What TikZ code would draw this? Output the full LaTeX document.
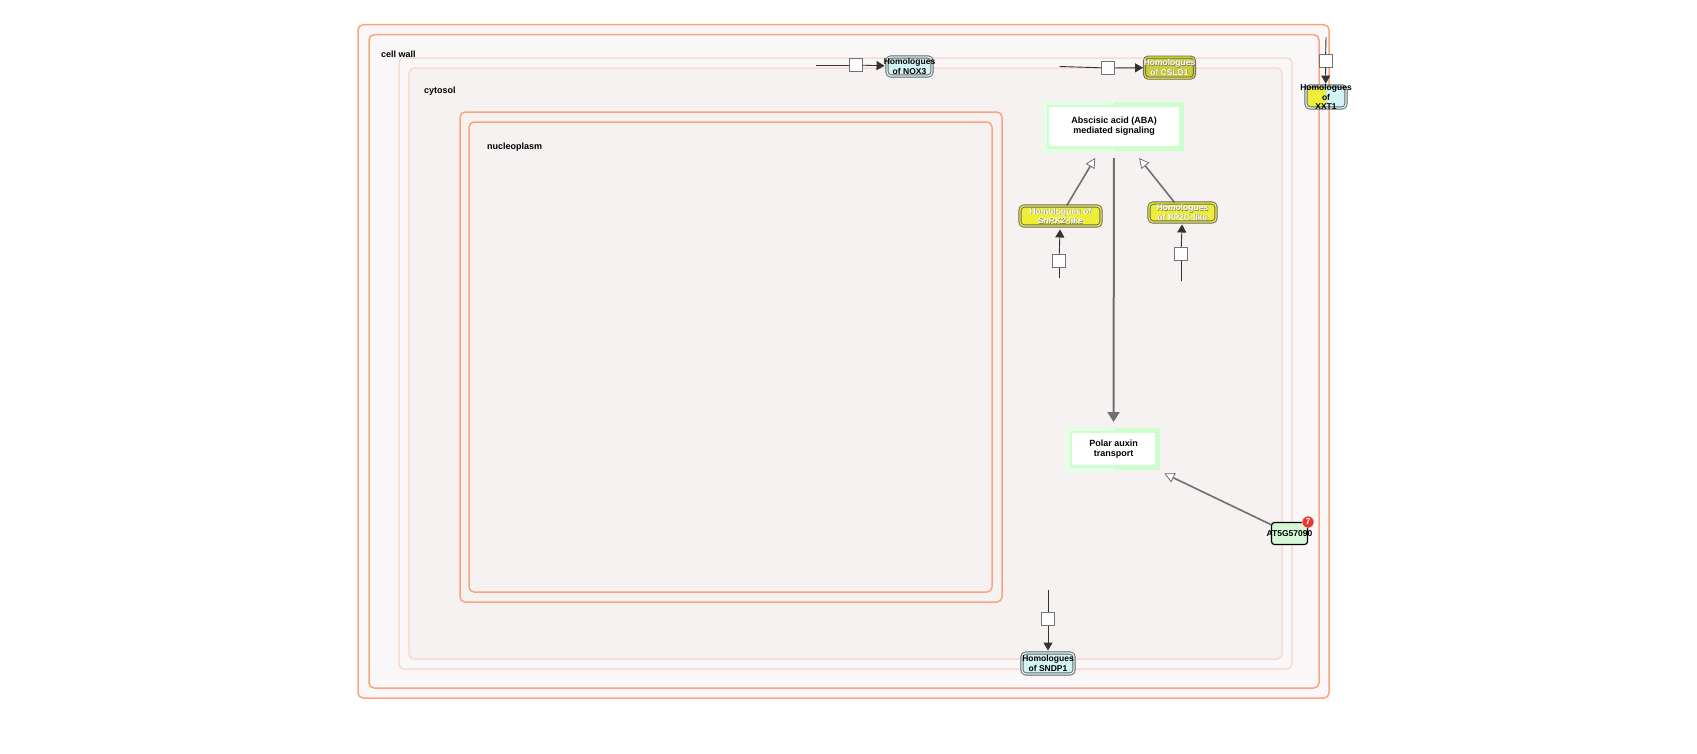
\documentclass[tikz,border=0pt]{standalone}
\usepackage{fontspec}
\setmainfont{Liberation Sans}
\usetikzlibrary{arrows.meta}

\definecolor{cellorange}{HTML}{FBA57E}
\definecolor{cytopink}{HTML}{F9DBCF}
\definecolor{wallfill}{HTML}{F9F7F7}
\definecolor{innerfill}{HTML}{F5F2F1}
\definecolor{geneyellow}{HTML}{EEEE3A}
\definecolor{geneolive}{HTML}{CDCD38}
\definecolor{genecyan}{HTML}{D4F4F4}
\definecolor{genegreen}{HTML}{D7F8D7}
\definecolor{procgreen}{HTML}{CCFFCC}
\definecolor{proclight}{HTML}{E9FCE9}
\definecolor{linegray}{HTML}{707070}
\definecolor{badgered}{HTML}{E53A2F}

\tikzset{
  comp/.style={draw=cellorange, line width=1.5pt, rounded corners=5pt},
  cyto/.style={draw=cytopink, line width=1.5pt, rounded corners=5pt},
  complabel/.style={anchor=west, font=\fontsize{9}{10}\selectfont\bfseries, inner sep=0pt},
  genebox/.style={rounded corners=4pt, draw=black!60, line width=0.9pt,
    double distance=1.4pt, inner sep=0pt},
  genetext/.style={align=center, font=\fontsize{8.5}{9.3}\selectfont\bfseries, inner sep=0pt},
  whitetext/.style={genetext, text=white},
  shadetext/.style={genetext, text=black!55, xshift=0.5pt, yshift=-0.5pt},
  procbox/.style={draw=procgreen, line width=5pt, fill=white, inner sep=0pt,
    align=center, font=\fontsize{9}{10}\selectfont\bfseries},
  anchorbox/.style={draw=black!55, fill=white, minimum size=13pt, inner sep=0pt},
  anchorline/.style={draw=black!80, line width=0.9pt},
  anchorarrow/.style={anchorline, -{Triangle[length=8pt,width=9pt]}},
  openarrow/.style={draw=linegray, line width=1.6pt,
    -{Triangle[open,fill=white,length=10pt,width=10pt,line width=0.8pt]}},
  grayarrow/.style={draw=linegray, line width=2pt, -{Triangle[length=10pt,width=12pt]}}
}

\begin{document}
\begin{tikzpicture}[x=1pt,y=-1pt]
    \useasboundingbox (0,0) rectangle (1697,753);

    % compartments
    \draw[comp, fill=wallfill](358, 24.7) rectangle (1329, 698);
    \draw[comp, fill=wallfill](369, 34.7) rectangle (1319, 688);
        \node[complabel] (cellwall) at(381, 54){cell wall};
    \draw[cyto, fill=wallfill](399, 58) rectangle (1292, 669);
    \draw[cyto, fill=innerfill](409, 68) rectangle (1282, 659);
        \node[complabel] (cytosol) at(424, 91){cytosol};
    \draw[comp, fill=innerfill](460, 112) rectangle (1002, 602);
    \draw[comp, fill=innerfill](469, 122) rectangle (992, 592);
        \node[complabel] (nucleoplasm) at(487, 147){nucleoplasm};

    % processes
    \node[procbox, minimum width=135pt, minimum height=44pt] (aba) at(1114, 126.5){};
        \draw[proclight, line width=5pt](aba.north) -- (aba.north west) -- (aba.south west) -- (aba.south);
        \node[procbox, draw=none, fill=none] (abatext) at(aba){Abscisic acid (ABA)\\mediated signaling};
    \node[procbox, minimum width=88pt, minimum height=37pt] (polar) at(1113.5, 449){};
        \draw[proclight, line width=5pt](polar.north) -- (polar.north west) -- (polar.south west) -- (polar.south);
        \node[procbox, draw=none, fill=none] (polartext) at(polar){Polar auxin\\transport};

    % gene products
    \node[genebox, fill=genecyan, double=genecyan, minimum width=45pt, minimum height=19pt,
        label={[genetext]center:Homologues\\of NOX3}] (nox3) at(909.5, 66.5){};
    \node[genebox, fill=geneolive, double=geneolive, minimum width=50pt, minimum height=21pt,
        label={[shadetext]center:Homologues\\of CSLD1},
        label={[whitetext]center:Homologues\\of CSLD1}] (csld1) at(1169.5, 67.6){};
    \node[genebox, fill=genecyan, double=genecyan, minimum width=40pt, minimum height=22pt,
        path picture={\fill[geneyellow](path picture bounding box.south west) rectangle (path picture bounding box.north);},
        label={[genetext]center:Homologues\\of\\XXT1}] (xxt1) at(1326, 97){};
    \node[genebox, fill=geneyellow, double=geneyellow, minimum width=81pt, minimum height=20pt,
        label={[shadetext]center:Homologues of\\SnRK2-like},
        label={[whitetext]center:Homologues of\\SnRK2-like}] (snrk2) at(1060.5, 216){};
    \node[genebox, fill=geneyellow, double=geneyellow, minimum width=67pt, minimum height=19pt,
        label={[shadetext]center:Homologues\\of PP2C-like},
        label={[whitetext]center:Homologues\\of PP2C-like}] (pp2c) at(1182.5, 212.5){};
    \node[genebox, fill=genecyan, double=genecyan, minimum width=52pt, minimum height=21pt,
        label={[genetext]center:Homologues\\of SNDP1}] (sndp1) at(1048, 663.5){};
    \node[draw=black, line width=1.2pt, fill=genegreen, rounded corners=3pt,
        minimum width=36pt, minimum height=22pt, inner sep=0pt,
        label={[genetext]center:AT5G57090}] (at5g) at(1289.5, 533.5){};
        \node[circle, fill=badgered, draw=white, line width=0.4pt, minimum size=12pt, inner sep=0pt,
            text=white, font=\fontsize{8.5}{9}\selectfont\bfseries] (badge) at(1308, 522){7};

    % anchors
    \coordinate (nox3in) at(816, 65);
        \node[anchorbox] (nox3anc) at(855.5, 65){};
        \draw[anchorline](nox3in) -- (nox3anc);
        \draw[anchorarrow, shorten >=2pt](nox3anc) -- (nox3);
    \coordinate (csld1in) at(1059.6, 66.5);
        \node[anchorbox] (csld1anc) at(1108, 68){};
        \draw[anchorline](csld1in) -- (csld1anc);
        \draw[anchorarrow, shorten >=1pt](csld1anc) -- (csld1);
    \coordinate (xxt1in) at(1326, 37);
        \node[anchorbox] (xxt1anc) at(1325.5, 60.5){};
        \draw[anchorline](xxt1in) -- (xxt1anc);
        \draw[anchorarrow, shorten >=2pt](xxt1anc) -- (xxt1);
    \coordinate (snrk2in) at(1059, 278);
        \node[anchorbox] (snrk2anc) at(1059, 261){};
        \draw[anchorline](snrk2in) -- (snrk2anc);
        \draw[anchorarrow, shorten >=3pt](snrk2anc) -- (snrk2);
    \coordinate (pp2cin) at(1181, 281);
        \node[anchorbox] (pp2canc) at(1181, 254){};
        \draw[anchorline](pp2cin) -- (pp2canc);
        \draw[anchorarrow, shorten >=2pt](pp2canc) -- (pp2c);
    \coordinate (sndp1in) at(1048, 590);
        \node[anchorbox] (sndp1anc) at(1048, 619){};
        \draw[anchorline](sndp1in) -- (sndp1anc);
        \draw[anchorarrow, shorten >=2pt](sndp1anc) -- (sndp1);

    % interactions
    \draw[openarrow, shorten >=8pt](snrk2) -- (aba);
    \draw[openarrow, shorten >=9pt](pp2c) -- (aba);
    \draw[grayarrow, shorten <=7pt, shorten >=6pt](aba.south) -- (polar.north);
    \draw[openarrow, shorten >=8pt](at5g) -- (polar);
\end{tikzpicture}
\end{document}
